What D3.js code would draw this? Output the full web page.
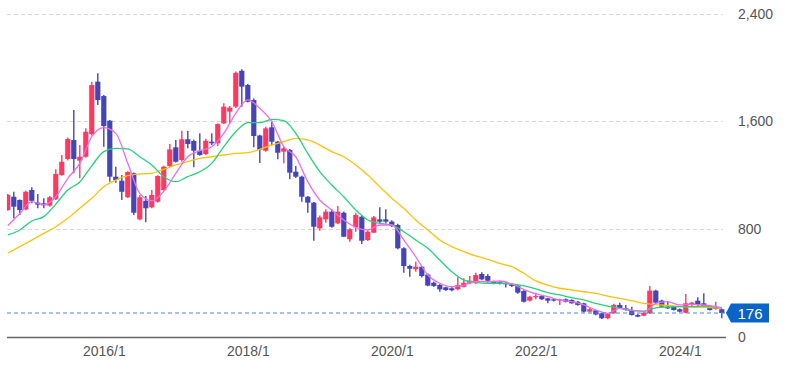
<!DOCTYPE html>
<html>
<head>
<meta charset="utf-8">
<script src="https://cdn.jsdelivr.net/npm/d3@7"></script>
<style>
  body { margin: 0; background: #fff; }
  svg { display: block; font-family: "Liberation Sans", Arial, sans-serif; }
</style>
</head>
<body>
<svg width="807" height="374"></svg>
<script>
// monthly candles, 2014/9 .. 2024/8
var startYear = 2014, startMonth = 9;
var open  = [941,1040,1016,946,1090,996,991,974,1021,1201,1320,1461,1308,1337,1505,1895,1788,1605,1189,1159,
             1036,1214,872,1010,961,1003,1090,1268,1407,1313,1467,1454,1382,1357,1449,1437,1585,1672,1709,1976,
             1870,1759,1495,1382,1556,1449,1375,1387,1226,1189,1040,996,805,872,929,842,921,724,813,892,
             718,773,872,872,855,830,657,525,501,520,462,401,384,367,360,352,371,397,397,466,
             451,409,405,400,389,377,340,268,293,302,285,278,268,278,273,260,248,186,196,174,
             137,174,236,211,198,161,156,174,342,268,223,223,204,178,238,268,248,218,206,204];
var high  = [1060,1077,1020,1085,1110,1060,1028,1045,1244,1350,1480,1684,1424,1548,1895,1957,1795,1610,1263,1201,
             1230,1220,1053,1045,1090,1200,1270,1432,1461,1531,1528,1465,1511,1470,1511,1585,1734,1715,1970,1987,
             1877,1770,1500,1560,1605,1455,1412,1395,1268,1195,1045,1000,900,947,947,971,930,805,921,900,
             790,897,961,947,865,840,665,535,557,525,470,410,392,372,368,441,434,451,476,478,
             466,415,412,405,395,385,345,305,327,310,290,285,282,283,278,265,252,218,200,178,
             172,245,253,236,223,168,182,377,348,275,260,228,210,317,258,293,322,225,260,210];
var low   = [935,880,904,940,991,954,954,965,1015,1195,1310,1214,1177,1330,1495,1722,1412,1152,1144,1016,
             1030,905,865,850,955,995,1085,1260,1295,1300,1400,1259,1345,1350,1425,1417,1580,1585,1700,1709,
             1740,1407,1290,1375,1424,1318,1288,1169,1180,1003,921,713,788,847,810,835,740,706,780,689,
             712,770,842,842,815,650,476,446,483,440,375,370,334,340,338,345,365,390,392,420,
             400,390,388,365,370,320,255,262,278,272,248,262,236,255,245,230,180,180,160,132,
             129,170,205,195,158,145,152,168,250,220,205,195,182,175,225,230,225,195,200,137];
var close = [1053,966,941,1077,1010,981,976,1036,1209,1300,1469,1320,1337,1523,1870,1759,1565,1189,1164,1077,
             1224,921,1036,954,1053,1194,1263,1392,1300,1467,1432,1382,1350,1456,1437,1580,1709,1702,1961,1858,
             1746,1491,1390,1548,1449,1367,1400,1219,1189,1040,996,817,887,929,817,929,743,798,904,713,
             780,887,855,855,822,657,525,505,520,451,380,377,352,347,345,384,401,416,458,426,
             416,397,398,390,377,327,260,297,302,278,268,268,278,260,248,236,186,204,165,137,
             169,236,211,198,161,149,178,342,253,223,211,198,186,248,253,236,230,198,223,176];

// moving averages (every second month)
var maIdx = [0,2,4,6,8,10,12,14,16,18,20,22,24,26,28,30,32,34,36,38,40,42,44,46,48,50,52,54,56,58,
             60,62,64,66,68,70,72,74,76,78,80,82,84,86,88,90,92,94,96,98,100,102,104,106,108,110,112,114,116,118,119];
var maShort = [825,915,1003,980,1040,1177,1288,1486,1554,1511,1288,1065,1010,1080,1214,1337,1382,1412,1511,1660,
               1759,1697,1597,1412,1337,1152,1016,941,867,812,793,830,830,718,594,458,397,371,384,409,
               409,414,392,352,318,297,273,260,236,198,174,211,198,186,248,260,236,240,236,223,211];
var maMid   = [756,793,860,892,985,1090,1150,1270,1375,1400,1395,1337,1276,1189,1152,1189,1226,1288,1412,1523,
               1590,1590,1615,1605,1511,1362,1226,1127,1040,941,867,842,830,780,718,657,570,483,421,404,
               397,397,392,377,355,327,310,290,273,248,228,211,193,190,214,220,223,223,228,220,218];
var maLong  = [620,669,718,768,817,880,954,1028,1114,1164,1196,1209,1214,1244,1276,1300,1325,1337,1350,1362,
               1367,1392,1424,1449,1474,1462,1424,1375,1337,1276,1201,1114,1028,954,867,793,718,669,632,600,
               575,545,520,471,415,384,360,347,334,322,302,285,268,248,238,232,226,220,218,214,211];

var yTicks = [0, 800, 1600, 2400];
var xTickLabels = ["2016/1", "2018/1", "2020/1", "2022/1", "2024/1"];
var lastPrice = 176;

var months = [];
for (var k = 0; k < close.length; k++) {
  var m = startMonth - 1 + k;
  months.push((startYear + Math.floor(m / 12)) + "/" + (m % 12 + 1));
}

var svg = d3.select("svg");

var x = d3.scaleLinear().domain([0, 119]).range([7.8, 721.8]);
var y = d3.scaleLinear().domain([0, 2400]).range([336.7, 13.7]);
var left = 7, right = 726;

svg.append("defs").append("clipPath").attr("id", "plot")
  .append("rect").attr("x", left).attr("y", 0).attr("width", right - left).attr("height", 340);

// grid
svg.append("g").selectAll("line")
  .data(yTicks.filter(function(d) { return d > 0; }))
  .enter().append("line")
    .attr("x1", left).attr("x2", 723)
    .attr("y1", function(d) { return Math.round(y(d)) + 0.5; })
    .attr("y2", function(d) { return Math.round(y(d)) + 0.5; })
    .style("stroke", "#d9d9d9")
    .style("stroke-dasharray", "4,3");

// bottom axis line
svg.append("line")
  .attr("x1", left).attr("x2", right)
  .attr("y1", Math.round(y(0)) + 0.5).attr("y2", Math.round(y(0)) + 0.5)
  .style("stroke", "#666").style("stroke-width", 1.3);

var plot = svg.append("g").attr("clip-path", "url(#plot)");

var data = close.map(function(c, i) {
  return { i: i, month: months[i], o: open[i], h: high[i], l: low[i], c: c };
});

var up = "#fb3a62", down = "#4545b8";

var candle = plot.append("g").selectAll("g")
  .data(data)
  .enter().append("g");

candle.append("line")
  .attr("x1", function(d) { return x(d.i); })
  .attr("x2", function(d) { return x(d.i); })
  .attr("y1", function(d) { return y(d.h); })
  .attr("y2", function(d) { return y(d.l); })
  .style("stroke", function(d) { return d.c >= d.o ? up : down; })
  .style("stroke-width", 1.4);

candle.append("rect")
  .attr("x", function(d) { return x(d.i) - 2.6; })
  .attr("width", 5.2)
  .attr("y", function(d) { return y(Math.max(d.o, d.c)); })
  .attr("height", function(d) { return Math.max(1.2, Math.abs(y(d.o) - y(d.c))); })
  .style("fill", function(d) { return d.c >= d.o ? up : down; });

// moving averages
function maLine(vals, color) {
  var line = d3.line()
    .x(function(d, j) { return x(maIdx[j]); })
    .y(function(d) { return y(d); })
    .curve(d3.curveMonotoneX);
  plot.append("path")
    .datum(vals)
    .attr("d", line)
    .style("fill", "none")
    .style("stroke", color)
    .style("stroke-width", 1.3);
}
maLine(maLong, "#ffc107");
maLine(maMid, "#22d37a");
maLine(maShort, "#f06af0");

// last price line
svg.append("line")
  .attr("x1", left).attr("x2", right)
  .attr("y1", y(lastPrice)).attr("y2", y(lastPrice))
  .style("stroke", "#4a86de")
  .style("stroke-dasharray", "4,3");

var ly = y(lastPrice);
svg.append("path")
  .attr("d", "M726," + ly + "L731," + (ly - 9.5) + "H769V" + (ly + 9.5) + "H731Z")
  .style("fill", "#0a63c9");
svg.append("text")
  .attr("x", 750).attr("y", ly + 5.5)
  .attr("text-anchor", "middle")
  .style("font-size", "15px")
  .style("fill", "#fff")
  .text(lastPrice);

// y axis labels
var yAxis = d3.axisRight(y).tickValues(yTicks).tickSize(0).tickPadding(0).tickFormat(d3.format(","));
svg.append("g")
  .attr("transform", "translate(738,0)")
  .call(yAxis)
  .call(function(g) { g.select(".domain").remove(); })
  .selectAll("text")
    .style("font-size", "14px")
    .style("fill", "#555")
    .style("font-family", "Liberation Sans, Arial, sans-serif");

// x axis labels
var xAxis = d3.axisBottom(x)
  .tickValues(xTickLabels.map(function(s) { return months.indexOf(s); }))
  .tickSize(0).tickPadding(0)
  .tickFormat(function(d) { return months[d]; });
svg.append("g")
  .attr("transform", "translate(0,346)")
  .call(xAxis)
  .call(function(g) { g.select(".domain").remove(); })
  .selectAll("text")
    .style("font-size", "14px")
    .style("fill", "#555")
    .style("font-family", "Liberation Sans, Arial, sans-serif");
</script>
</body>
</html>
